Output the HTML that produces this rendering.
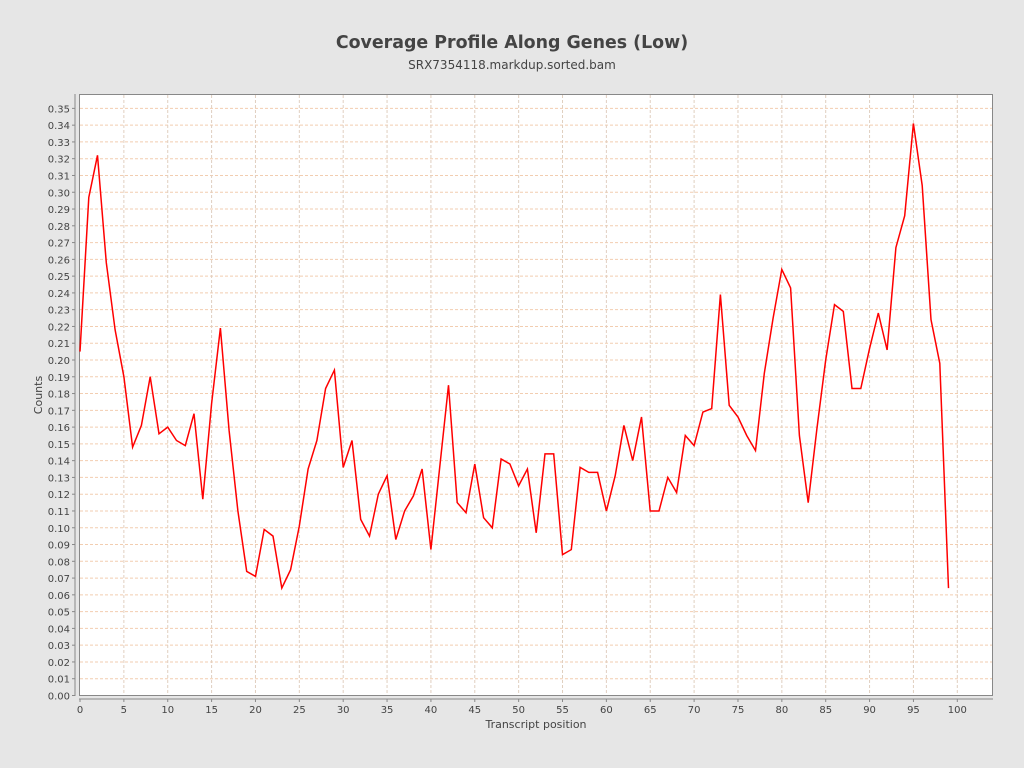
<!DOCTYPE html>
<html><head><meta charset="utf-8"><style>
html,body{margin:0;padding:0;background:#e6e6e6;}
svg{display:block;font-family:"DejaVu Sans","Liberation Sans",sans-serif;}
</style></head><body>
<svg id="s" width="1024" height="768" xmlns="http://www.w3.org/2000/svg">
<rect width="1024" height="768" fill="#e6e6e6"/>
<text x="512" y="48" text-anchor="middle" font-size="17.4" font-weight="bold" fill="#444">Coverage Profile Along Genes (Low)</text>
<text x="512" y="69" text-anchor="middle" font-size="12" fill="#444">SRX7354118.markdup.sorted.bam</text>
<rect x="79.5" y="94.5" width="913" height="601" fill="#fff" stroke="#888" stroke-width="1"/>
<g id="g"></g>
<text x="42" y="395" text-anchor="middle" font-size="11" fill="#444" transform="rotate(-90 42 395)">Counts</text>
<text x="536" y="728" text-anchor="middle" font-size="11" fill="#444">Transcript position</text>
</svg>
<script>
var g=document.getElementById('g'),h='';
function X(i){return 80+i*8.773;}
function Y(v){return 695.5-v*1677.5;}
for(var k=0;k<=35;k++){var y=Y(k/100);
 if(k>0)h+='<line x1="80" x2="992" y1="'+y+'" y2="'+y+'" stroke="#f2cdb0" stroke-dasharray="3,2" stroke-width="1"/>';
 h+='<line x1="72" x2="75" y1="'+y+'" y2="'+y+'" stroke="#888"/>';
 h+='<text x="70" y="'+(y+4)+'" text-anchor="end" font-size="10" fill="#444">'+(k/100).toFixed(2)+'</text>';}
for(var i=0;i<=100;i+=5){var x=X(i);
 if(i>0)h+='<line x1="'+x+'" x2="'+x+'" y1="95" y2="695" stroke="#e0cfc0" stroke-dasharray="3,2" stroke-width="1"/>';
 h+='<line x1="'+x+'" x2="'+x+'" y1="699" y2="702" stroke="#888"/>';
 h+='<text x="'+x+'" y="713" text-anchor="middle" font-size="10" fill="#444">'+i+'</text>';}
h+='<line x1="75" x2="75" y1="94" y2="696" stroke="#888"/>';
h+='<line x1="79" x2="993" y1="699" y2="699" stroke="#888"/>';
var d=[0.205,0.297,0.322,0.258,0.218,0.19,0.148,0.161,0.190,0.156,0.160,0.152,0.149,0.168,0.117,0.174,0.219,0.158,0.110,0.074,0.071,0.099,0.095,0.064,0.075,0.101,0.135,0.152,0.183,0.194,0.136,0.152,0.105,0.095,0.120,0.131,0.093,0.110,0.119,0.135,0.087,0.136,0.185,0.115,0.109,0.138,0.106,0.100,0.141,0.138,0.125,0.135,0.097,0.144,0.144,0.084,0.087,0.136,0.133,0.133,0.110,0.131,0.161,0.140,0.166,0.110,0.110,0.130,0.121,0.155,0.149,0.169,0.171,0.239,0.173,0.166,0.155,0.146,0.192,0.225,0.254,0.243,0.155,0.115,0.159,0.200,0.233,0.229,0.183,0.183,0.207,0.228,0.206,0.267,0.286,0.341,0.304,0.224,0.198,0.064];
var p=d.map(function(v,i){return X(i).toFixed(1)+','+Y(v).toFixed(1);}).join(' ');
h+='<polyline points="'+p+'" fill="none" stroke="#ff0000" stroke-width="1.5"/>';
g.innerHTML=h;
</script>
</body></html>
